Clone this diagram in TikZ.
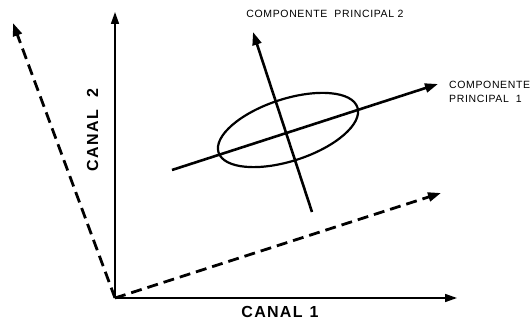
\documentclass[tikz,border=0pt]{standalone}
\usepackage{fontspec}
\setmainfont{Liberation Sans}
\usetikzlibrary{arrows.meta}
\begin{document}
\begin{tikzpicture}[x=1pt,y=1pt,
  axis/.style={line width=1.6pt,-{Triangle[length=12pt,width=8pt]}},
  pcline/.style={line width=2.6pt,-{Triangle[length=13pt,width=9pt]}},
  dashline/.style={line width=2.8pt,dash pattern=on 11pt off 6pt,-{Triangle[length=13pt,width=9pt]}},
  biglabel/.style={font=\fontsize{16}{16}\selectfont\bfseries\addfontfeature{LetterSpace=8},inner sep=0pt},
  smalllabel/.style={font=\fontsize{10.5}{14}\selectfont\addfontfeature{LetterSpace=6},inner sep=0pt,align=left}]
\useasboundingbox (0,0) rectangle (530,324);
\coordinate (O) at (115,26);
\coordinate (ytip) at (115,312);
\coordinate (xtip) at (457,26);
\coordinate (ltip) at (13,301);
\coordinate (rtip) at (441,131);
\coordinate (p1s) at (172,154);
\coordinate (p1e) at (438,240);
\coordinate (p2s) at (312,112);
\coordinate (p2e) at (253,292);
\coordinate (c) at (288,194);
\draw[axis] (O) -- (ytip);
\draw[axis] (O) -- (xtip);
\draw[dashline] (O) -- (ltip);
\draw[dashline] (O) -- (rtip);
\draw[line width=2.2pt,rotate around={18:(c)}] (c) ellipse [x radius=73pt,y radius=31pt];
\draw[pcline] (p1s) -- (p1e);
\draw[pcline] (p2s) -- (p2e);
\node[biglabel,rotate=90] (c2) at (92.5,194) {CANAL\hspace{12pt}2};
\node[biglabel] (c1) at (280,12) {CANAL\hspace{7pt}1};
\node[smalllabel] (pc2) at (325,310) {COMPONENTE\ \ PRINCIPAL 2};
\node[smalllabel,anchor=north west] (pc1) at (449,243) {COMPONENTE\\PRINCIPAL\ \ 1};
\end{tikzpicture}
\end{document}
